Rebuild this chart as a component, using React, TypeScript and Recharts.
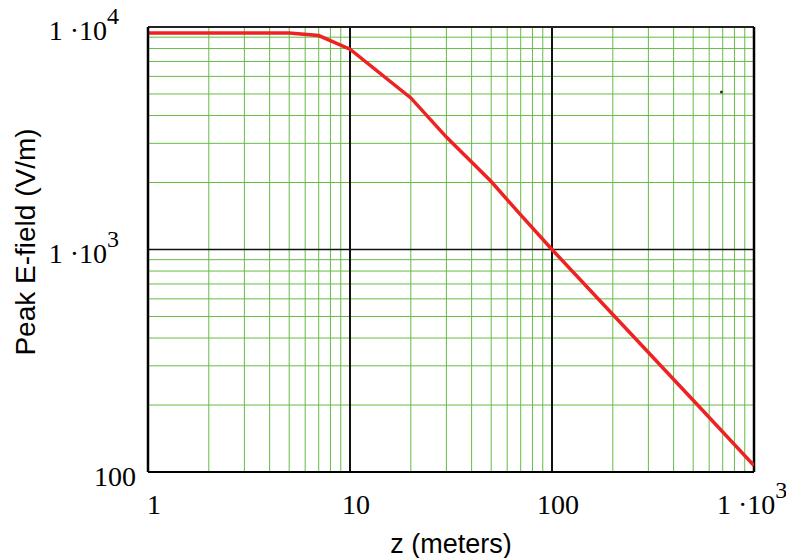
import {
  ComposedChart,
  Line,
  ReferenceDot,
  ReferenceLine,
  XAxis,
  YAxis,
} from "recharts";

// distance z (m) and peak E-field (V/m)
const zValues = [1, 2, 3, 5, 7, 10, 20, 30, 50, 70, 100, 200, 500, 1000];
const fieldValues = [9400, 9400, 9400, 9400, 9150, 7950, 4800, 3200, 2020, 1430, 1000, 510, 210, 107];

// stray marker in the upper right of the plot
const strayZ = [690];
const strayField = [5100];

const xTicks = [1, 10, 100, 1000];
const yTicks = [100, 1000, 10000];
const xMinor = [2, 3, 4, 5, 6, 7, 8, 9, 20, 30, 40, 50, 60, 70, 80, 90, 200, 300, 400, 500, 600, 700, 800, 900];
const yMinor = [200, 300, 400, 500, 600, 700, 800, 900, 2000, 3000, 4000, 5000, 6000, 7000, 8000, 9000];
const xMajor = [10, 100];
const yMajor = [1000];

const data = zValues.map((z, i) => ({ z, e: fieldValues[i] }));

const serif = "'Liberation Serif', 'Times New Roman', serif";
const sans = "'Liberation Sans', Arial, sans-serif";
const gridGreen = "#66bb44";

function expLabel(v: number) {
  if (v < 1000) return { base: String(v), exp: "" };
  return { base: "1 \u00b710", exp: String(Math.round(Math.log10(v))) };
}

// baseline-aligned text: y is the baseline
function YTick(props: any) {
  const { y, payload } = props;
  const { base, exp } = expLabel(payload.value);
  if (!exp) {
    return (
      <text x={136} y={y + 14} textAnchor="end" fontFamily={serif} fontSize={28} fill="#000">
        {base}
      </text>
    );
  }
  return (
    <text x={119} y={y + 13} textAnchor="end" fontFamily={serif} fontSize={28} fill="#000">
      {base}
      <tspan fontSize={24} dy={-16}>{exp}</tspan>
    </text>
  );
}

function XTick(props: any) {
  const { x, payload } = props;
  const { base, exp } = expLabel(payload.value);
  if (!exp) {
    return (
      <text x={x + 6} y={514} textAnchor="middle" fontFamily={serif} fontSize={28} fill="#000">
        {base}
      </text>
    );
  }
  return (
    <text x={x - 37} y={514} textAnchor="start" fontFamily={serif} fontSize={28} fill="#000">
      {base}
      <tspan fontSize={24} dy={-16}>{exp}</tspan>
    </text>
  );
}

export default function App() {
  return (
    <div style={{ position: "absolute", left: 0, top: 0, background: "#fff" }}>
      <ComposedChart
        width={786}
        height={558}
        data={data}
        margin={{ top: 27, right: 32, left: 0, bottom: 0 }}
      >
        <XAxis
          dataKey="z"
          type="number"
          scale="log"
          domain={[1, 1000]}
          ticks={xTicks}
          allowDataOverflow
          height={86}
          tickLine={false}
          axisLine={{ stroke: "#000", strokeWidth: 2 }}
          tick={<XTick />}
          label={() => (
            <text x={451} y={553} textAnchor="middle" fontFamily={sans} fontSize={27} fill="#000">
              z (meters)
            </text>
          )}
        />
        <YAxis
          type="number"
          scale="log"
          domain={[100, 10000]}
          ticks={yTicks}
          allowDataOverflow
          width={148}
          tickLine={false}
          axisLine={{ stroke: "#000", strokeWidth: 2.5 }}
          tick={<YTick />}
          label={() => (
            <text
              x={35}
              y={242}
              transform="rotate(-90 35 242)"
              textAnchor="middle"
              fontFamily={sans}
              fontSize={28}
              fill="#000"
            >
              Peak E-field (V/m)
            </text>
          )}
        />
        {xMinor.map((v) => (
          <ReferenceLine key={`xm${v}`} x={v} stroke={gridGreen} strokeWidth={1} />
        ))}
        {yMinor.map((v) => (
          <ReferenceLine key={`ym${v}`} y={v} stroke={gridGreen} strokeWidth={1} />
        ))}
        {xMajor.map((v) => (
          <ReferenceLine key={`xM${v}`} x={v} stroke="#111" strokeWidth={2} />
        ))}
        {yMajor.map((v) => (
          <ReferenceLine key={`yM${v}`} y={v} stroke="#111" strokeWidth={1.5} />
        ))}
        <ReferenceLine y={10000} stroke="#222" strokeWidth={2} />
        <ReferenceLine x={1000} stroke="#000" strokeWidth={2.5} />
        <ReferenceDot x={strayZ[0]} y={strayField[0]} r={1.5} fill="#333" stroke="none" />
        <Line
          dataKey="e"
          type="linear"
          stroke="#ee2222"
          strokeWidth={3.5}
          dot={false}
          isAnimationActive={false}
        />
      </ComposedChart>
    </div>
  );
}
